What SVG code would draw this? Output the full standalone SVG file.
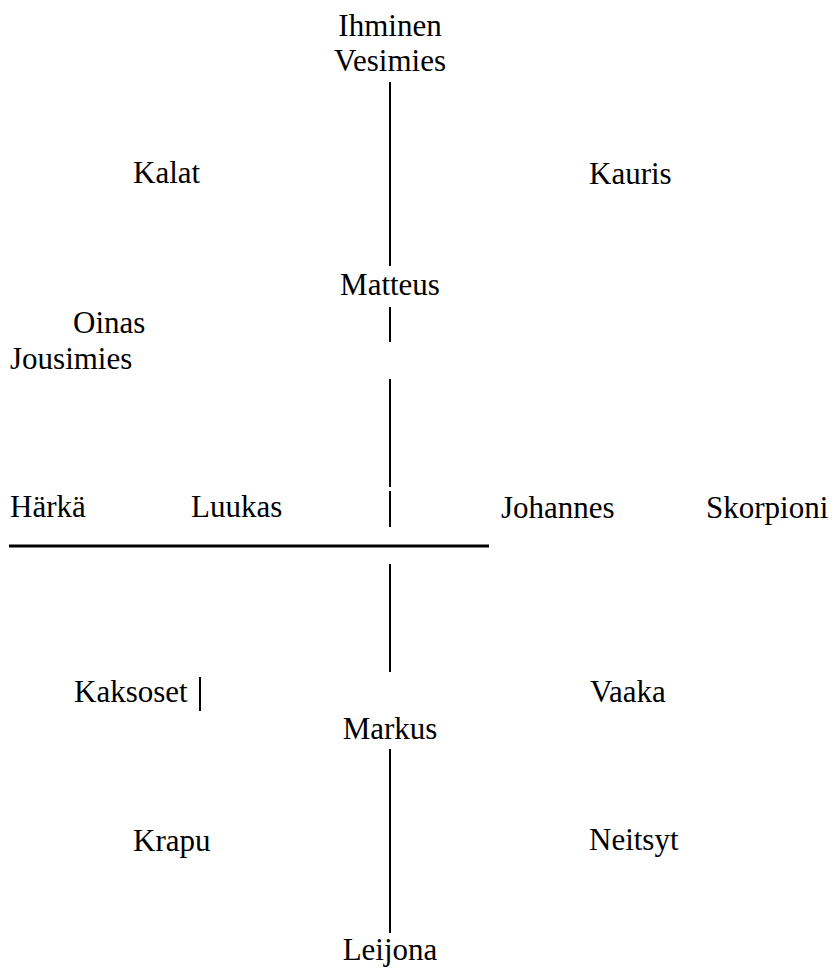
<svg xmlns="http://www.w3.org/2000/svg" width="835" height="970" viewBox="0 0 835 970">
<style>
.t{font-family:'Liberation Serif','Times New Roman',Times,'DejaVu Serif',serif;font-size:31px;fill:#000}
.c{text-anchor:middle}
.v{stroke:#000;stroke-width:2;fill:none}
.h{stroke:#000;stroke-width:3;fill:none}
</style>
<rect width="835" height="970" fill="#fff"/>
<g id="connectors">
<line class="v" x1="390" y1="82" x2="390" y2="266"/>
<line class="v" x1="390" y1="307" x2="390" y2="342"/>
<line class="v" x1="390" y1="379" x2="390" y2="487"/>
<line class="v" x1="390" y1="491" x2="390" y2="527"/>
<line class="h" x1="9" y1="546" x2="489" y2="546"/>
<line class="v" x1="390" y1="564" x2="390" y2="672"/>
<line class="v" x1="200" y1="677" x2="200" y2="711"/>
<line class="v" x1="390" y1="749" x2="390" y2="933"/>
</g>
<g id="ihminen" class="t"><text class="c" x="390" y="36">Ihminen</text><text class="c" x="390" y="71">Vesimies</text></g>
<g id="kalat" class="t"><text x="133" y="183">Kalat</text></g>
<g id="kauris" class="t"><text x="589" y="184">Kauris</text></g>
<g id="matteus" class="t"><text class="c" x="390" y="295">Matteus</text></g>
<g id="oinas" class="t"><text x="73" y="333">Oinas</text></g>
<g id="jousimies" class="t"><text x="10" y="369">Jousimies</text></g>
<g id="harka" class="t"><text x="10" y="517">Härkä</text></g>
<g id="luukas" class="t"><text x="191" y="517">Luukas</text></g>
<g id="johannes" class="t"><text x="501" y="518">Johannes</text></g>
<g id="skorpioni" class="t"><text x="706" y="518">Skorpioni</text></g>
<g id="kaksoset" class="t"><text x="74" y="702">Kaksoset</text></g>
<g id="vaaka" class="t"><text x="590" y="702">Vaaka</text></g>
<g id="markus" class="t"><text class="c" x="390" y="739">Markus</text></g>
<g id="krapu" class="t"><text x="133" y="851">Krapu</text></g>
<g id="neitsyt" class="t"><text x="589" y="850">Neitsyt</text></g>
<g id="leijona" class="t"><text class="c" x="390" y="960">Leijona</text></g>
</svg>
